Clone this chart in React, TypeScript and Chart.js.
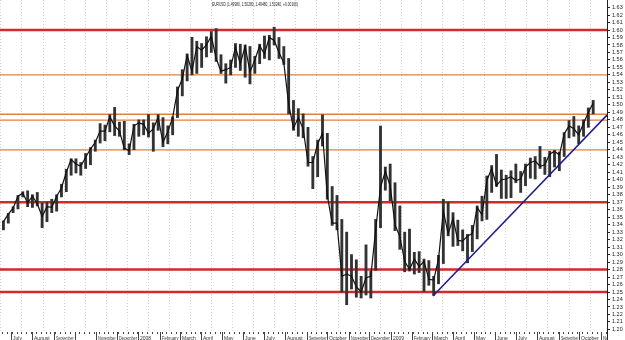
import React, { useEffect, useRef } from "react";
import { Chart, registerables } from "chart.js";
Chart.register(...registerables);

const titleText = "EURUSD (1.49980, 1.50280, 1.49480, 1.50240, +0.00160)";

// Weekly bars, first week starting Monday 2007-06-18
const firstWeek = "2007-06-18";

const weekHigh = [
  1.3450, 1.3550, 1.3640, 1.3790, 1.3840, 1.3852, 1.3800, 1.3830, 1.3690, 1.3700,
  1.3740, 1.3800, 1.3940, 1.4140, 1.4280, 1.4280, 1.4230, 1.4350, 1.4430, 1.4530,
  1.4750, 1.4730, 1.4870, 1.4966, 1.4770, 1.4780, 1.4480, 1.4740, 1.4800,
  1.4800, 1.4870, 1.4760, 1.4870, 1.4830, 1.4720, 1.4840, 1.5240, 1.5470, 1.5680,
  1.5903, 1.5850, 1.5820, 1.5910, 1.5980, 1.6019, 1.5670, 1.5550, 1.5600, 1.5820,
  1.5810, 1.5800, 1.5780, 1.5650, 1.5810, 1.5920, 1.5930, 1.6038, 1.5900, 1.5780,
  1.5620, 1.5060, 1.4950, 1.4880, 1.4700, 1.4310, 1.4530, 1.4867, 1.4620, 1.3910,
  1.3790, 1.3470, 1.3300, 1.3000, 1.2930, 1.2710, 1.3130, 1.2780, 1.3470, 1.4718,
  1.4170, 1.4210,
  1.3960, 1.3650, 1.3300, 1.3340, 1.3030, 1.3040, 1.2940, 1.2920, 1.2710, 1.2990,
  1.3738, 1.3700, 1.3560, 1.3460, 1.3330, 1.3270, 1.3390, 1.3650, 1.3780, 1.4050,
  1.4190, 1.4338, 1.4130, 1.4060, 1.4120, 1.4210, 1.4110, 1.4210, 1.4290, 1.4310,
  1.4445, 1.4300, 1.4380, 1.4390, 1.4370, 1.4630, 1.4790, 1.4845, 1.4720, 1.4800,
  1.4960, 1.5060,
];

const weekLow = [
  1.3330, 1.3420, 1.3560, 1.3610, 1.3770, 1.3640, 1.3630, 1.3650, 1.3360, 1.3440,
  1.3560, 1.3580, 1.3770, 1.3840, 1.4060, 1.4090, 1.4060, 1.4150, 1.4200, 1.4380,
  1.4490, 1.4520, 1.4640, 1.4590, 1.4580, 1.4400, 1.4335, 1.4400, 1.4580,
  1.4600, 1.4570, 1.4380, 1.4660, 1.4440, 1.4480, 1.4600, 1.4830, 1.5120, 1.5320,
  1.5400, 1.5420, 1.5500, 1.5640, 1.5700, 1.5580, 1.5420, 1.5290, 1.5400, 1.5500,
  1.5460, 1.5370, 1.5280, 1.5420, 1.5550, 1.5620, 1.5600, 1.5800, 1.5620, 1.5540,
  1.4880, 1.4660, 1.4580, 1.4560, 1.4180, 1.3880, 1.4040, 1.4450, 1.3740, 1.3390,
  1.3330, 1.2500, 1.2330, 1.2540, 1.2430, 1.2420, 1.2460, 1.2420, 1.2790, 1.3360,
  1.3860, 1.3720,
  1.3320, 1.3070, 1.2770, 1.2780, 1.2740, 1.2760, 1.2510, 1.2590, 1.2457, 1.2610,
  1.2880, 1.3250, 1.3110, 1.3120, 1.3050, 1.2890, 1.3040, 1.3210, 1.3450, 1.3470,
  1.3830, 1.3910, 1.3750, 1.3750, 1.3760, 1.3960, 1.3830, 1.3920, 1.4020, 1.4010,
  1.4150, 1.4070, 1.4040, 1.4170, 1.4120, 1.4310, 1.4560, 1.4580, 1.4480, 1.4580,
  1.4700, 1.4880,
];

const weekClose = [
  1.3440, 1.3540, 1.3620, 1.3780, 1.3820, 1.3690, 1.3780, 1.3680, 1.3510, 1.3640,
  1.3630, 1.3780, 1.3890, 1.4100, 1.4270, 1.4210, 1.4180, 1.4300, 1.4410, 1.4500,
  1.4650, 1.4650, 1.4840, 1.4720, 1.4650, 1.4420, 1.4390, 1.4720, 1.4760,
  1.4740, 1.4620, 1.4680, 1.4830, 1.4500, 1.4640, 1.4830, 1.5190, 1.5350, 1.5660,
  1.5450, 1.5780, 1.5730, 1.5800, 1.5920, 1.5620, 1.5450, 1.5470, 1.5500, 1.5770,
  1.5550, 1.5780, 1.5440, 1.5600, 1.5790, 1.5680, 1.5900, 1.5860, 1.5700, 1.5560,
  1.5010, 1.4690, 1.4830, 1.4680, 1.4230, 1.4230, 1.4480, 1.4620, 1.3790, 1.3420,
  1.3420, 1.2710, 1.2740, 1.2710, 1.2570, 1.2500, 1.2690, 1.2710, 1.3330, 1.3900,
  1.4110, 1.3920,
  1.3400, 1.3240, 1.2910, 1.2800, 1.2940, 1.2840, 1.2910, 1.2670, 1.2660, 1.2940,
  1.3580, 1.3280, 1.3480, 1.3190, 1.3180, 1.3250, 1.3280, 1.3630, 1.3530, 1.3990,
  1.4150, 1.3920, 1.4000, 1.4010, 1.4040, 1.3990, 1.4010, 1.4170, 1.4230, 1.4250,
  1.4180, 1.4200, 1.4340, 1.4380, 1.4330, 1.4610, 1.4720, 1.4680, 1.4600, 1.4750,
  1.4900, 1.5024,
];

const redLevels = [1.6, 1.37, 1.28, 1.25];
const orangeLevels = [1.54, 1.4875, 1.4795, 1.44];

const trendDates = ["2009-03-03", "2009-11-10"];
const trendValues = [1.2447, 1.4864];

const monthStarts = [
  "2007-07-01", "2007-08-01", "2007-09-01", "2007-10-01", "2007-11-01", "2007-12-01",
  "2008-01-01", "2008-02-01", "2008-03-01", "2008-04-01", "2008-05-01", "2008-06-01",
  "2008-07-01", "2008-08-01", "2008-09-01", "2008-10-01", "2008-11-01", "2008-12-01",
  "2009-01-01", "2009-02-01", "2009-03-01", "2009-04-01", "2009-05-01", "2009-06-01",
  "2009-07-01", "2009-08-01", "2009-09-01", "2009-10-01", "2009-11-01",
];
const monthLabels = [
  "July", "August", "September", "", "November", "December",
  "2008", "February", "March", "April", "May", "June",
  "July", "August", "September", "October", "November", "December",
  "2009", "February", "March", "April", "May", "June",
  "July", "August", "September", "October", "November",
];

const xStart = "2007-06-15";
const xEnd = "2009-11-10";
const yBottom = 1.1859;
const yTop = 1.6401;
const yTickFirst = 1.2;
const yTickLast = 1.63;

const dayNum = (s: string) => {
  const [y, m, d] = s.split("-").map(Number);
  return Date.UTC(y, m - 1, d) / 86400000;
};
const weekMonday = (i: number) => dayNum(firstWeek) + 7 * i;

const FONT = "'Liberation Sans', Arial, sans-serif";

const overlayPlugin = {
  id: "overlay",
  afterDraw(chart: any) {
    const { ctx, chartArea, scales } = chart;
    const xs = scales.x;
    ctx.save();
    // title
    ctx.fillStyle = "#222";
    ctx.font = `5px ${FONT}`;
    ctx.textBaseline = "middle";
    ctx.textAlign = "left";
    ctx.fillText(titleText, 212, 4.5, 86);
    // bottom axis row
    ctx.fillStyle = "#fff";
    ctx.fillRect(chartArea.left, 331, chartArea.right - chartArea.left, 9);
    ctx.beginPath();
    ctx.rect(chartArea.left, 0, chartArea.right - chartArea.left + 1, 340);
    ctx.clip();
    ctx.strokeStyle = "#444";
    ctx.lineWidth = 1;
    ctx.beginPath();
    for (let i = -1; i <= weekHigh.length + 3; i++) {
      const px = Math.round(xs.getPixelForValue(weekMonday(i))) + 0.5;
      ctx.moveTo(px, 332);
      ctx.lineTo(px, 334);
    }
    monthStarts.forEach((m) => {
      const px = Math.round(xs.getPixelForValue(dayNum(m))) + 0.5;
      ctx.moveTo(px, 332);
      ctx.lineTo(px, 340);
    });
    ctx.stroke();
    ctx.fillStyle = "#333";
    ctx.font = `5px ${FONT}`;
    ctx.textBaseline = "alphabetic";
    monthStarts.forEach((m, i) => {
      const px = Math.round(xs.getPixelForValue(dayNum(m)));
      const next = i + 1 < monthStarts.length ? xs.getPixelForValue(dayNum(monthStarts[i + 1])) : px + 24;
      const maxW = Math.max(4, next - px - 3);
      ctx.fillText(monthLabels[i], px + 2, 339.5, maxW);
    });
    ctx.restore();
  },
};

export default function App() {
  const ref = useRef<HTMLCanvasElement>(null);
  useEffect(() => {
    document.body.style.margin = "0";
    const xMin = dayNum(xStart);
    const xMax = dayNum(xEnd);
    const levelSet = (lvl: number, color: string, w: number) => ({
      type: "line" as const,
      data: [
        { x: xMin, y: lvl },
        { x: xMax, y: lvl },
      ],
      borderColor: color,
      borderWidth: w,
      pointRadius: 0,
      order: 10,
    });
    const datasets: any[] = [
      ...redLevels.map((l) => levelSet(l, "#d22a2a", 2.6)),
      ...orangeLevels.map((l) => levelSet(l, "#e2803f", 1.3)),
      {
        type: "bar",
        data: weekHigh.map((h, i) => ({ x: weekMonday(i) + 2, y: [weekLow[i], h] })),
        backgroundColor: "#333333",
        borderWidth: 0,
        barThickness: 2.2,
        grouped: false,
        order: 3,
      },
      {
        type: "line",
        data: weekClose.map((c, i) => ({ x: weekMonday(i) + 2, y: c })),
        borderColor: "#111111",
        borderWidth: 1.2,
        pointRadius: 0,
        tension: 0,
        order: 2,
      },
      {
        type: "line",
        data: trendDates.map((d, i) => ({ x: dayNum(d), y: trendValues[i] })),
        borderColor: "#1b1b8e",
        borderWidth: 1.5,
        pointRadius: 0,
        order: 1,
      },
    ];
    const chart = new Chart(ref.current!, {
      type: "bar",
      data: { datasets },
      options: {
        animation: false,
        responsive: false,
        events: [],
        layout: { padding: 0 },
        plugins: { legend: { display: false }, tooltip: { enabled: false } },
        scales: {
          x: {
            type: "linear",
            min: xMin,
            max: xMax,
            offset: false,
            ticks: { display: false },
            grid: { color: "#d2d2d2", lineWidth: 1, drawTicks: false },
            border: { display: false, dash: [1, 2] },
            afterBuildTicks: (s: any) => {
              s.ticks = monthStarts.map((m) => ({ value: dayNum(m) }));
            },
            afterFit: (s: any) => {
              s.height = 0;
              s.paddingLeft = 0;
              s.paddingRight = 0;
            },
          },
          y: {
            type: "linear",
            position: "right",
            min: yBottom,
            max: yTop,
            grid: {
              drawOnChartArea: false,
              drawTicks: true,
              tickLength: 3,
              tickColor: "#222",
            },
            border: { display: true, color: "#222", width: 1 },
            ticks: {
              autoSkip: false,
              padding: 2,
              color: "#222",
              font: { size: 5.5, family: FONT },
              callback: (v: any) => Number(v).toFixed(2),
            },
            afterBuildTicks: (s: any) => {
              const t: any[] = [];
              for (let k = Math.round(yTickFirst * 100); k <= Math.round(yTickLast * 100); k++) {
                t.push({ value: k / 100 });
              }
              s.ticks = t;
            },
            afterFit: (s: any) => {
              s.width = 18;
              s.paddingTop = 0;
              s.paddingBottom = 0;
            },
          },
        },
      } as any,
      plugins: [overlayPlugin],
    });
    return () => chart.destroy();
  }, []);
  return (
    <div style={{ position: "fixed", left: 0, top: 0, width: 625, height: 340, background: "#fff" }}>
      <canvas ref={ref} width={625} height={340} style={{ display: "block" }} />
    </div>
  );
}
